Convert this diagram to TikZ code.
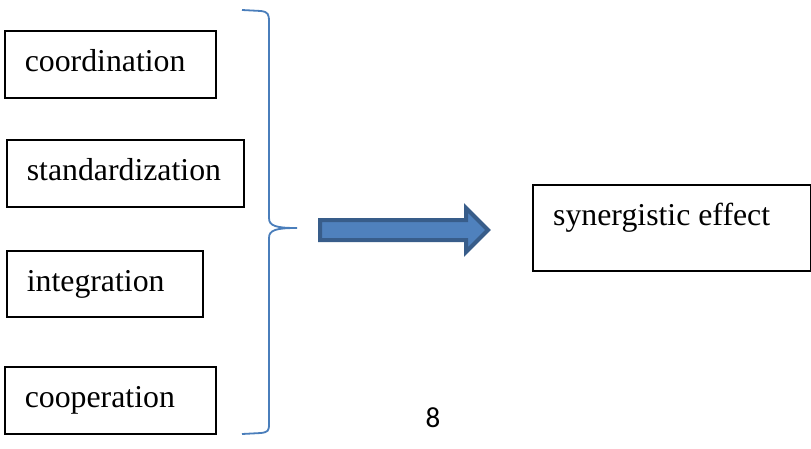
\documentclass[tikz,border=0pt]{standalone}
\usepackage{fontspec}
\setmainfont{Liberation Serif}
\newfontfamily\digitfont{Carlito}
\definecolor{bracecol}{RGB}{74,126,187}
\definecolor{arrowfill}{RGB}{79,129,189}
\definecolor{arrowline}{RGB}{56,93,138}
\begin{document}
\begin{tikzpicture}[x=1pt, y=-1pt,
    item/.style={draw, line width=1.6pt, anchor=north west, inner xsep=20pt, inner ysep=0pt,
        text height=22pt, text depth=7pt, align=left, font=\fontsize{31.8}{38}\selectfont}]
        \useasboundingbox (0,0) rectangle (811,448);
        \node[item, minimum width=211pt, minimum height=67pt, text width=171pt] (coord) at (4, 30) {coordination};
        \node[item, minimum width=237pt, minimum height=67pt, text width=197pt] (stand) at (6, 139) {standardization};
        \node[item, minimum width=196pt, minimum height=66pt, text width=156pt] (integ) at (6, 250) {integration};
        \node[item, minimum width=211pt, minimum height=67pt, text width=171pt] (coop) at (4, 366) {cooperation};
        \node[item, minimum width=278pt, minimum height=86pt] (syn) at (532, 184) {};
        \node[anchor=base west, inner sep=0pt, font=\fontsize{31.8}{38}\selectfont] (syntext) at (553, 225) {synergistic effect};
        % brace
        \draw[bracecol, line width=1.8pt] (242, 10) -- (261, 11) .. controls (268, 12) and (269, 14) .. (269, 22)
            -- (269, 218) .. controls (269, 226) and (276, 228) .. (297, 228)
            .. controls (276, 228) and (269, 230) .. (269, 238)
            -- (269, 424) .. controls (269, 431) and (268, 432) .. (261, 433) -- (242, 434);
        % arrow
        \draw[arrowline, fill=arrowfill, line width=4pt, line join=miter]
            (320, 220) -- (466, 220) -- (466, 208) -- (488, 230) -- (466, 252) -- (466, 240) -- (320, 240) -- cycle;
        \node[font=\digitfont\fontsize{29}{34}\selectfont] (page) at (433, 418) {8};
    \end{tikzpicture}
\end{document}
